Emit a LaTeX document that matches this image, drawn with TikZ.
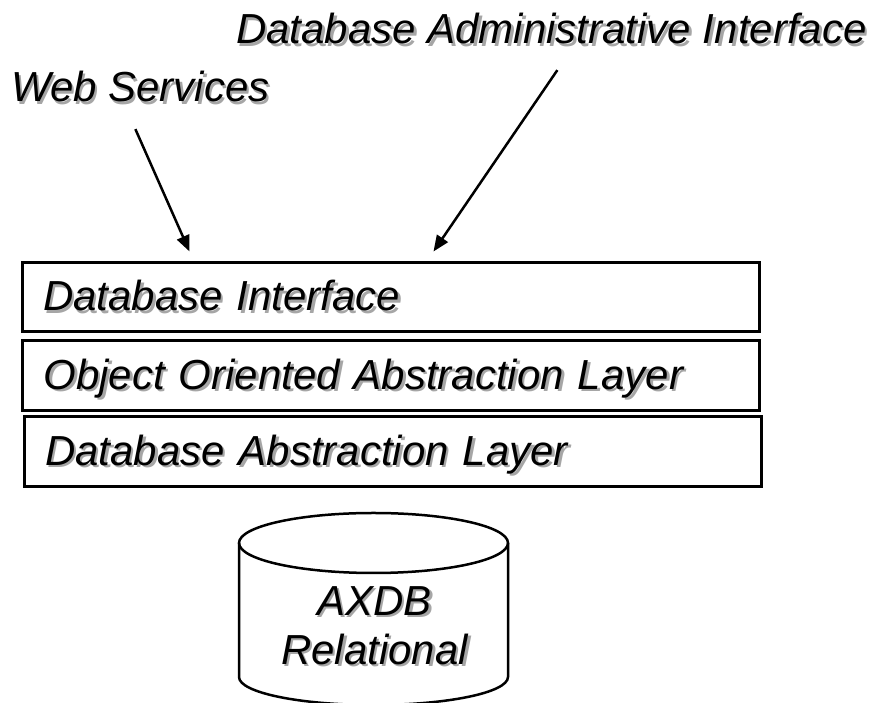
\documentclass[tikz,border=0pt]{standalone}
\usepackage{fontspec}
\setmainfont{Liberation Sans}
\usetikzlibrary{positioning,arrows.meta}

\newcommand\shadowtxt[1]{\leavevmode\rlap{\hspace{2.5pt}\raisebox{-2.5pt}{\textcolor{black!35}{#1}}}#1}

\begin{document}
\begin{tikzpicture}[x=1pt, y=1pt, >={Triangle[length=16pt,width=13pt]},
	font=\itshape\fontsize{42}{49}\selectfont,
	layer/.style={draw, rectangle, line width=3pt, inner xsep=21pt, inner ysep=0pt, text width=695pt, minimum height=69pt, align=left, text height=30pt, text depth=3pt},
	lbl/.style={inner sep=0pt, anchor=base west},
	link/.style={->, line width=2.5pt}]
	\path[use as bounding box, fill=white] (0,0) rectangle (878,703);

	% Labels above the stack
	\node[lbl] (w) at (11,601) {\shadowtxt{Web Services}};
	\node[lbl] (m) at (236,659) {\shadowtxt{Database Administrative Interface}};

	% Layer stack, top to bottom
	\node[layer] (a) at (390.5,405.5) {\shadowtxt{Database Interface}};
	\node[layer, minimum height=70pt] (b) at (391,327) {\shadowtxt{Object Oriented Abstraction Layer}};
	\node[layer, minimum height=70pt] (c) at (392.5,251) {\shadowtxt{Database Abstraction Layer}};

	% Arrows into the top layer
	\draw[link] ([xshift=-5pt,yshift=-24pt]w.south) -- ([xshift=169pt,yshift=10pt]a.north west);
	\draw[link] ([xshift=6pt,yshift=-23pt]m.south) -- ([xshift=413pt,yshift=10pt]a.north west);

	% Relational store
	\draw[line width=2.5pt] (373.5,160) ellipse [x radius=134.5, y radius=30];
	\draw[line width=2.5pt] (239,160) -- (239,26) arc [start angle=180, end angle=360, x radius=134.5, y radius=28] -- (508,160);
	\node[align=center, inner sep=0pt] (d) at (374.5,76) {\shadowtxt{AXDB}\\\shadowtxt{Relational}};
\end{tikzpicture}
\end{document}
